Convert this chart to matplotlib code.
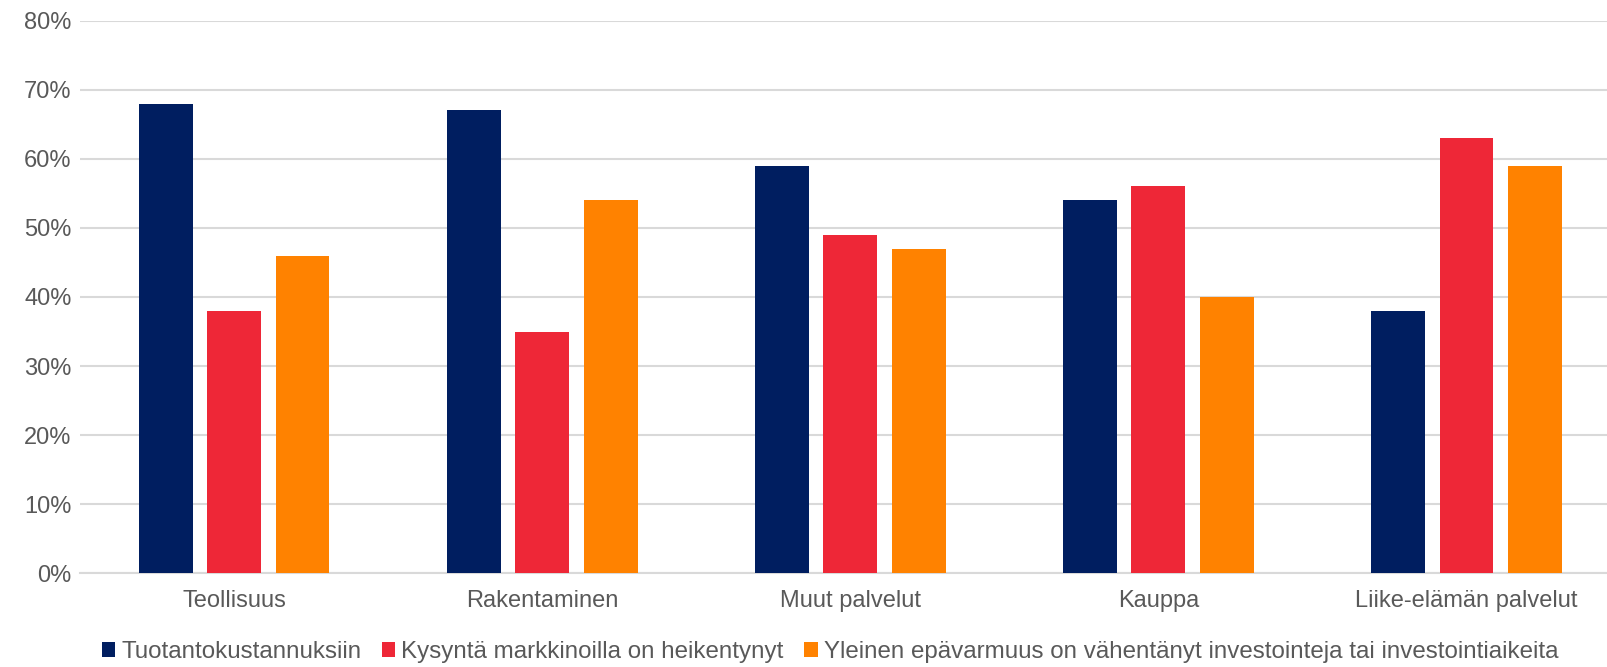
import numpy as np
import matplotlib
matplotlib.use("Agg")
import matplotlib.pyplot as plt

plt.rcParams['font.family'] = ['Liberation Sans', 'DejaVu Sans']

categories = ["Teollisuus", "Rakentaminen", "Muut palvelut", "Kauppa", "Liike-elämän palvelut"]
series_names = [
    "Tuotantokustannuksiin",
    "Kysyntä markkinoilla on heikentynyt",
    "Yleinen epävarmuus on vähentänyt investointeja tai investointiaikeita",
]
costs = [68, 67, 59, 54, 38]
demand = [38, 35, 49, 56, 63]
uncertainty = [46, 54, 47, 40, 59]
colors = ["#001E60", "#EE2737", "#FF8200"]

fig = plt.figure(figsize=(16.08, 6.67), dpi=100)
ax = fig.add_axes([0.0498, 0.1405, 0.958, 0.8285])

x = np.arange(len(categories))
width = 0.175
step = 0.222
for i, (vals, name, col) in enumerate(zip([costs, demand, uncertainty], series_names, colors)):
    ax.bar(x + (i - 1) * step, vals, width, color=col, label=name, zorder=3)

ax.set_xlim(-0.5, len(categories) - 0.5)
ax.set_ylim(0, 80)
ax.set_yticks(range(0, 81, 10))
ax.set_yticklabels([f"{v}%" for v in range(0, 81, 10)])
ax.set_xticks(x)
ax.set_xticklabels(categories)

ax.grid(axis='y', color='#d9d9d9', linewidth=1.5, zorder=0)
for s in ['top', 'right', 'left']:
    ax.spines[s].set_visible(False)
ax.spines['bottom'].set_color('#d9d9d9')
ax.spines['bottom'].set_linewidth(1.5)
ax.tick_params(axis='both', length=0, colors='#595959', labelsize=17)
ax.tick_params(axis='x', pad=12)
ax.tick_params(axis='y', pad=6)

leg = fig.legend(loc='center left', bbox_to_anchor=(0.0575, 0.0225), ncol=3, frameon=False,
                 fontsize=17.4, handlelength=0.55, handleheight=0.55, handletextpad=0.25,
                 columnspacing=0.85, borderaxespad=0)
for t in leg.get_texts():
    t.set_color('#595959')

fig.savefig("out.png", dpi=100)
